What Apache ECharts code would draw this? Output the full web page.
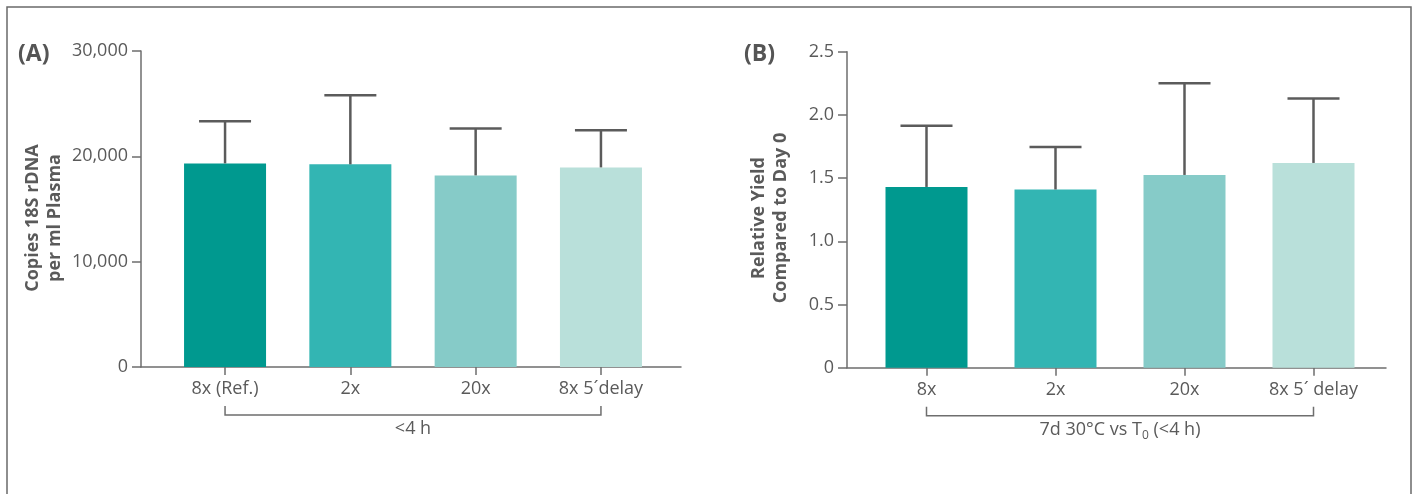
<!DOCTYPE html>
<html>
<head>
<meta charset="utf-8">
<script src="https://cdn.jsdelivr.net/npm/echarts@6/dist/echarts.min.js"></script>
<style>html,body{margin:0;padding:0;background:#fff}#c{width:1416px;height:494px}</style>
</head>
<body>
<div id="c"></div>
<script>
// ---- data ----
const categoriesA = ['8x (Ref.)', '2x', '20x', '8x 5´delay'];
const valuesA = [19330, 19240, 18190, 18950];
const upperA = [23330, 25810, 22640, 22480];
const ticksA = [0, 10000, 20000, 30000];

const categoriesB = ['8x', '2x', '20x', '8x 5´ delay'];
const valuesB = [1.43, 1.41, 1.525, 1.62];
const upperB = [1.915, 1.746, 2.25, 2.13];
const ticksB = [0, 0.5, 1.0, 1.5, 2.0, 2.5];

const barColors = ['#00998F', '#33B5B3', '#86CBC8', '#B9E0DA'];
const panelLabels = ['(A)', '(B)'];
const yTitles = ['Copies 18S rDNA\nper ml Plasma', 'Relative Yield\nCompared to Day 0'];
const bracketA = '<4 h';
const bracketB = '7d 30°C vs T{sub|0} (<4 h)';

// ---- styles ----
const FONT = '"Open Sans", "Noto Sans", sans-serif';
const TXT = '#5a5a5a';
const AX = '#6e6e6e';
const ERR = '#5b5b5b';

const chart = echarts.init(document.getElementById('c'), null, {renderer: 'canvas'});

function panel(gi, outer, inner, cats, vals, ups, ticks, fmt) {
  const ymin = ticks[0], ymax = ticks[ticks.length - 1], step = ticks[1] - ticks[0];
  const grids = [
    {left: outer.left, top: outer.top, width: outer.width, height: outer.height},
    {left: inner.left, top: outer.top, width: inner.width, height: outer.height}
  ];
  const xAxes = [
    {gridIndex: gi, type: 'value', min: 0, max: 1, axisLine: {show: true, onZero: false, lineStyle: {color: AX, width: 1.5}},
     axisTick: {show: false}, axisLabel: {show: false}, splitLine: {show: false}},
    {gridIndex: gi + 1, type: 'category', data: cats, axisLine: {show: false},
     axisTick: {show: true, alignWithLabel: true, length: 8, lineStyle: {color: AX, width: 1.5}},
     axisLabel: {color: TXT, fontFamily: FONT, fontSize: 18, margin: 13}}
  ];
  const yAxes = [
    {gridIndex: gi, type: 'value', min: ymin, max: ymax, interval: step,
     axisLine: {show: true, onZero: false, lineStyle: {color: AX, width: 1.5}},
     axisTick: {show: true, length: 9, lineStyle: {color: AX, width: 1.5}},
     axisLabel: {color: TXT, fontFamily: FONT, fontSize: 18, margin: 13, formatter: fmt},
     splitLine: {show: false}},
    {gridIndex: gi + 1, type: 'value', min: ymin, max: ymax, interval: step, show: false, splitLine: {show: false}}
  ];
  const series = [
    {type: 'bar', xAxisIndex: gi + 1, yAxisIndex: gi + 1, barWidth: 82, z: 2,
     data: vals.map((v, i) => ({value: v, itemStyle: {color: barColors[i]}}))},
    {type: 'custom', xAxisIndex: gi + 1, yAxisIndex: gi + 1, z: 3,
     data: vals.map((v, i) => [i, v, ups[i]]),
     renderItem: function (params, api) {
       const p0 = api.coord([api.value(0), api.value(1)]);
       const p1 = api.coord([api.value(0), api.value(2)]);
       const half = 26;
       return {type: 'group', children: [
         {type: 'line', shape: {x1: p0[0], y1: p0[1], x2: p1[0], y2: p1[1]}, style: {stroke: ERR, lineWidth: 2.5}},
         {type: 'line', shape: {x1: p1[0] - half, y1: p1[1], x2: p1[0] + half, y2: p1[1]}, style: {stroke: ERR, lineWidth: 2.5}}
       ]};
     }}
  ];
  return {grids, xAxes, yAxes, series};
}

const A = panel(0, {left: 141, top: 51, width: 540, height: 316}, {left: 162.4, width: 501.2},
  categoriesA, valuesA, upperA, ticksA, v => v.toLocaleString('en-US'));
const B = panel(2, {left: 847, top: 51.7, width: 539, height: 316}, {left: 862, width: 516},
  categoriesB, valuesB, upperB, ticksB, v => (v === 0 ? '0' : v.toFixed(1)));

chart.setOption({
  animation: false,
  backgroundColor: '#fff',
  grid: A.grids.concat(B.grids),
  xAxis: A.xAxes.concat(B.xAxes),
  yAxis: A.yAxes.concat(B.yAxes),
  series: A.series.concat(B.series)
});

// annotations computed from the axes
function bracket(xAxisIndex, yAxisIndex, cats, text) {
  const xl = chart.convertToPixel({xAxisIndex: xAxisIndex}, cats[0]);
  const xr = chart.convertToPixel({xAxisIndex: xAxisIndex}, cats[cats.length - 1]);
  const y0 = chart.convertToPixel({yAxisIndex: yAxisIndex}, 0);
  const yb = y0 + 48;
  return [
    {type: 'polyline', shape: {points: [[xl, yb - 9], [xl, yb], [xr, yb], [xr, yb - 9]]},
     style: {stroke: AX, lineWidth: 1.5, fill: null}},
    {type: 'text', x: (xl + xr) / 2, y: yb + 14,
     style: {text: text, fill: TXT, font: '18px ' + FONT, align: 'center', verticalAlign: 'middle',
       rich: {sub: {fontSize: 12, fontFamily: FONT, fill: TXT, verticalAlign: 'bottom', padding: [12, 0, 0, 0]}}}}
  ];
}
function yTitle(x, text) {
  return {type: 'text', x: x, y: 218, rotation: Math.PI / 2,
    style: {text: text, fill: TXT, font: 'bold 18px ' + FONT, align: 'center', verticalAlign: 'middle', lineHeight: 22}};
}

chart.setOption({
  graphic: [
    {type: 'rect', shape: {x: 7, y: 7, width: 1404, height: 600}, style: {stroke: '#6a6a6a', lineWidth: 1.5, fill: null}, silent: true},
    {type: 'text', x: 18, y: 54, style: {text: panelLabels[0], fill: '#555', font: 'bold 23px ' + FONT, verticalAlign: 'middle'}},
    {type: 'text', x: 744, y: 54, style: {text: panelLabels[1], fill: '#555', font: 'bold 23px ' + FONT, verticalAlign: 'middle'}},
    yTitle(44, yTitles[0]),
    yTitle(770, yTitles[1])
  ].concat(bracket(1, 0, categoriesA, bracketA)).concat(bracket(3, 2, categoriesB, bracketB))
});
</script>
</body>
</html>
